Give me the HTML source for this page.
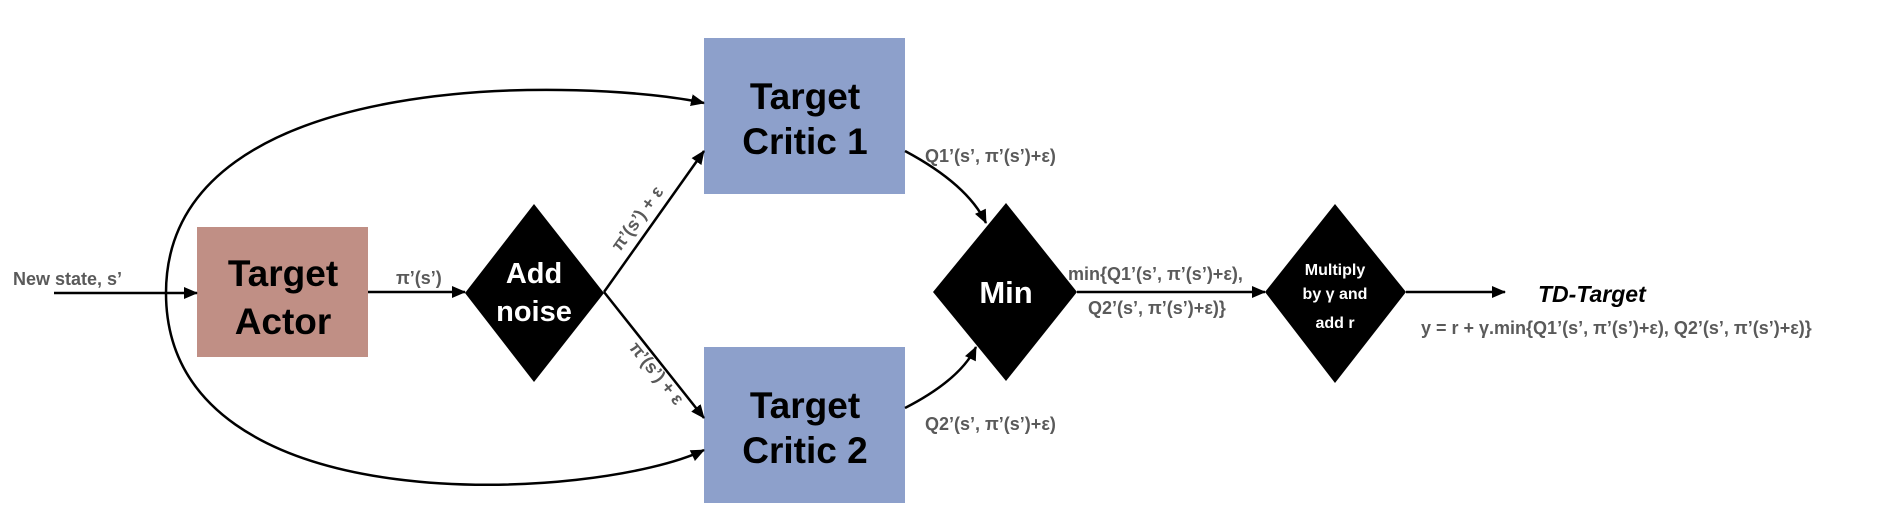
<!DOCTYPE html>
<html><head><meta charset="utf-8"><style>
html,body{margin:0;padding:0;background:#fff;}
svg{display:block;font-family:"Liberation Sans","DejaVu Sans",sans-serif;}
.lbl{fill:#5a5a5a;font-size:18px;}
.box{font-weight:bold;font-size:37px;fill:#000;text-anchor:middle;}
.wt{font-weight:bold;fill:#fff;text-anchor:middle;}
</style></head><body>
<svg width="1881" height="523" viewBox="0 0 1881 523" xmlns="http://www.w3.org/2000/svg">
<defs>
<marker id="ah" markerWidth="14" markerHeight="12" refX="13" refY="6" orient="auto" markerUnits="userSpaceOnUse">
<path d="M0,0 L14,6 L0,12 z" fill="#000"/></marker>
</defs>
<rect x="704" y="38" width="201" height="156" fill="#8da0cb"/>
<rect x="704" y="347" width="201" height="156" fill="#8da0cb"/>
<rect x="197" y="227" width="171" height="130" fill="#c08f85"/>
<text class="box" x="805" y="109">Target</text>
<text class="box" x="805" y="154">Critic 1</text>
<text class="box" x="805" y="418">Target</text>
<text class="box" x="805" y="463">Critic 2</text>
<text class="box" x="283" y="286">Target</text>
<text class="box" x="283" y="334">Actor</text>
<polygon points="534,204 604,293 534,382 465,293" fill="#000"/>
<text class="wt" x="534" y="283" font-size="29">Add</text>
<text class="wt" x="534" y="321" font-size="29">noise</text>
<polygon points="1006,203 1077,292 1006,381 933,292" fill="#000"/>
<text class="wt" x="1006" y="303" font-size="31">Min</text>
<polygon points="1335,204 1406,292 1335,383 1265,292" fill="#000"/>
<text class="wt" x="1335" y="275" font-size="16">Multiply</text>
<text class="wt" x="1335" y="299" font-size="16">by γ and</text>
<text class="wt" x="1335" y="328" font-size="16">add r</text>
<g stroke="#000" stroke-width="2.5" fill="none" marker-end="url(#ah)">
<line x1="54" y1="293" x2="197" y2="293"/>
<line x1="368" y1="292" x2="465" y2="292"/>
<line x1="604" y1="292" x2="704" y2="151"/>
<line x1="604" y1="292" x2="704" y2="418"/>
<path d="M166,293 C166,60 600,80 704,103"/>
<path d="M166,293 C166,530 600,500 704,450"/>
<path d="M905,151 C950,175 975,200 986,223"/>
<path d="M905,408 C940,390 965,370 976,347"/>
<line x1="1077" y1="292" x2="1265" y2="292"/>
<line x1="1406" y1="292" x2="1505" y2="292"/>
</g>
<text class="lbl" x="13" y="285" font-weight="bold">New state, s’</text>
<text class="lbl" x="396" y="284" font-weight="bold">π’(s’)</text>
<text class="lbl" font-weight="bold" transform="translate(642,222) rotate(-54)" text-anchor="middle">π’(s’) + ε</text>
<text class="lbl" font-weight="bold" transform="translate(652,377) rotate(51)" text-anchor="middle">π’(s’) + ε</text>
<text class="lbl" x="925" y="162" font-weight="bold">Q1’(s’, π’(s’)+ε)</text>
<text class="lbl" x="925" y="430" font-weight="bold">Q2’(s’, π’(s’)+ε)</text>
<text class="lbl" x="1068" y="280" font-weight="bold" font-size="17">min{Q1’(s’, π’(s’)+ε),</text>
<text class="lbl" x="1088" y="314" font-weight="bold" font-size="17">Q2’(s’, π’(s’)+ε)}</text>
<text x="1538" y="302" font-weight="bold" font-style="italic" font-size="23" fill="#000">TD-Target</text>
<text class="lbl" x="1421" y="334" font-weight="bold" font-size="17">y = r + γ.min{Q1’(s’, π’(s’)+ε), Q2’(s’, π’(s’)+ε)}</text>
</svg>
</body></html>
